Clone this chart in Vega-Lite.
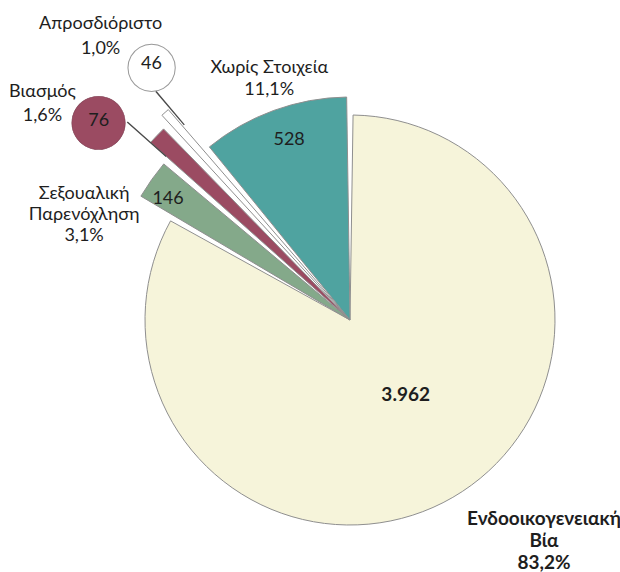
{
  "$schema": "https://vega.github.io/schema/vega-lite/v6.json",
  "width": 540,
  "height": 504,
  "autosize": {"type": "none"},
  "padding": {"left": 80, "top": 68, "right": 0, "bottom": 0},
  "background": "white",
  "config": {
    "view": {"stroke": null},
    "locale": {"number": {"decimal": ",", "thousands": ".", "grouping": [3], "currency": ["", "€"]}},
    "text": {"font": "Lato", "color": "#1e1e1e"}
  },
  "data": {
    "values": [
      {"cat": "Ενδοοικογενειακή Βία", "value": 3962, "pct": "83,2%", "ord": 1},
      {"cat": "Σεξουαλική Παρενόχληση", "value": 146, "pct": "3,1%", "ord": 2},
      {"cat": "Βιασμός", "value": 76, "pct": "1,6%", "ord": 3},
      {"cat": "Απροσδιόριστο", "value": 46, "pct": "1,0%", "ord": 4},
      {"cat": "Χωρίς Στοιχεία", "value": 528, "pct": "11,1%", "ord": 5}
    ]
  },
  "transform": [
    {"stack": "value", "groupby": [], "sort": [{"field": "ord", "order": "ascending"}], "offset": "normalize", "as": ["t0", "t1"]},
    {"calculate": "(datum.t0 + datum.t1) / 2", "as": "tm"},
    {"calculate": "(datum.cat === 'Χωρίς Στοιχεία' ? datum.cat : replace(datum.cat, ' ', '\\n')) + '\\n' + datum.pct", "as": "label"}
  ],
  "layer": [
    {
      "mark": {"type": "arc", "padAngle": 0.03, "stroke": "#8f8f8f", "strokeWidth": 1},
      "encoding": {
        "theta": {"field": "t0", "type": "quantitative", "stack": null, "scale": {"domain": [0, 1]}},
        "theta2": {"field": "t1"},
        "radius": {"field": "ord", "type": "quantitative", "scale": {"type": "linear", "zero": false, "domain": [1, 2, 3, 4, 5], "range": [205, 243, 267, 278, 223]}},
        "radius2": {"value": 0},
        "color": {"field": "cat", "type": "nominal", "legend": null,
          "scale": {"domain": ["Ενδοοικογενειακή Βία", "Σεξουαλική Παρενόχληση", "Βιασμός", "Απροσδιόριστο", "Χωρίς Στοιχεία"],
                    "range": ["#f6f4da", "#84a98a", "#9b4b62", "#ffffff", "#4fa3a0"]}}
      }
    },
    {
      "transform": [{"filter": "datum.ord == 3"}],
      "mark": {"type": "arc", "color": "#4a4a4a", "thetaOffset": -0.0384, "theta2Offset": -0.0334},
      "encoding": {
        "theta": {"field": "tm", "type": "quantitative", "stack": null},
        "theta2": {"field": "tm"},
        "radius": {"value": 298},
        "radius2": {"value": 246}
      }
    },
    {
      "transform": [{"filter": "datum.ord == 4"}],
      "mark": {"type": "arc", "color": "#4a4a4a", "thetaOffset": 0.021, "theta2Offset": 0.026},
      "encoding": {
        "theta": {"field": "tm", "type": "quantitative", "stack": null},
        "theta2": {"field": "tm"},
        "radius": {"value": 300},
        "radius2": {"value": 256}
      }
    },
    {
      "transform": [{"filter": "datum.ord == 3"}],
      "mark": {"type": "text", "text": "●", "font": "DejaVu Sans", "fontSize": 70, "baseline": "middle", "color": "#9b4b62", "stroke": "#7a3a4d", "strokeWidth": 0.5, "dx": -20, "dy": 21},
      "encoding": {
        "theta": {"field": "tm", "type": "quantitative", "stack": null},
        "radius": {"value": 320}
      }
    },
    {
      "transform": [{"filter": "datum.ord == 4"}],
      "mark": {"type": "text", "text": "●", "font": "DejaVu Sans", "fontSize": 62, "baseline": "middle", "color": "#ffffff", "stroke": "#9a9a9a", "strokeWidth": 1, "dx": 17, "dy": -13},
      "encoding": {
        "theta": {"field": "tm", "type": "quantitative", "stack": null},
        "radius": {"value": 324}
      }
    },
    {
      "transform": [{"filter": "datum.ord == 1"}],
      "mark": {"type": "text", "fontSize": 19, "fontWeight": "bold", "baseline": "middle", "dx": 9, "dy": -5},
      "encoding": {
        "theta": {"field": "tm", "type": "quantitative", "stack": null},
        "radius": {"value": 93},
        "text": {"field": "value", "type": "quantitative", "format": ",d"}
      }
    },
    {
      "transform": [{"filter": "datum.ord == 2"}],
      "mark": {"type": "text", "fontSize": 18, "baseline": "middle", "dx": -4, "dy": 5},
      "encoding": {
        "theta": {"field": "tm", "type": "quantitative", "stack": null},
        "radius": {"value": 218},
        "text": {"field": "value", "type": "quantitative", "format": ",d"}
      }
    },
    {
      "transform": [{"filter": "datum.ord == 3"}],
      "mark": {"type": "text", "fontSize": 18, "baseline": "middle", "dx": -20, "dy": 22},
      "encoding": {
        "theta": {"field": "tm", "type": "quantitative", "stack": null},
        "radius": {"value": 320},
        "text": {"field": "value", "type": "quantitative", "format": ",d"}
      }
    },
    {
      "transform": [{"filter": "datum.ord == 4"}],
      "mark": {"type": "text", "fontSize": 18, "baseline": "middle", "dx": 17, "dy": -14},
      "encoding": {
        "theta": {"field": "tm", "type": "quantitative", "stack": null},
        "radius": {"value": 324},
        "text": {"field": "value", "type": "quantitative", "format": ",d"}
      }
    },
    {
      "transform": [{"filter": "datum.ord == 5"}],
      "mark": {"type": "text", "fontSize": 18, "baseline": "middle", "dx": 4, "dy": -1},
      "encoding": {
        "theta": {"field": "tm", "type": "quantitative", "stack": null},
        "radius": {"value": 190},
        "text": {"field": "value", "type": "quantitative", "format": ",d"}
      }
    },
    {
      "transform": [{"filter": "datum.ord == 1"}],
      "mark": {"type": "text", "fontSize": 19, "fontWeight": "bold", "baseline": "middle", "lineBreak": "\n", "lineHeight": 22, "dx": 48, "dy": -53},
      "encoding": {
        "theta": {"field": "tm", "type": "quantitative", "stack": null},
        "radius": {"value": 291},
        "text": {"field": "label"}
      }
    },
    {
      "transform": [{"filter": "datum.ord == 2"}],
      "mark": {"type": "text", "fontSize": 18, "baseline": "middle", "lineBreak": "\n", "lineHeight": 21, "dx": -39, "dy": 35},
      "encoding": {
        "theta": {"field": "tm", "type": "quantitative", "stack": null},
        "radius": {"value": 278},
        "text": {"field": "label"}
      }
    },
    {
      "transform": [{"filter": "datum.ord == 3"}],
      "mark": {"type": "text", "fontSize": 18, "baseline": "middle", "lineBreak": "\n", "lineHeight": 24, "dx": -40, "dy": 28},
      "encoding": {
        "theta": {"field": "tm", "type": "quantitative", "stack": null},
        "radius": {"value": 370},
        "text": {"field": "label"}
      }
    },
    {
      "transform": [{"filter": "datum.ord == 4"}],
      "mark": {"type": "text", "fontSize": 18, "baseline": "middle", "lineBreak": "\n", "lineHeight": 25, "dx": 2, "dy": -14},
      "encoding": {
        "theta": {"field": "tm", "type": "quantitative", "stack": null},
        "radius": {"value": 378},
        "text": {"field": "label"}
      }
    },
    {
      "transform": [{"filter": "datum.ord == 5"}],
      "mark": {"type": "text", "fontSize": 18, "baseline": "middle", "lineBreak": "\n", "lineHeight": 22, "dx": 6, "dy": -13},
      "encoding": {
        "theta": {"field": "tm", "type": "quantitative", "stack": null},
        "radius": {"value": 254},
        "text": {"field": "label"}
      }
    }
  ]
}
